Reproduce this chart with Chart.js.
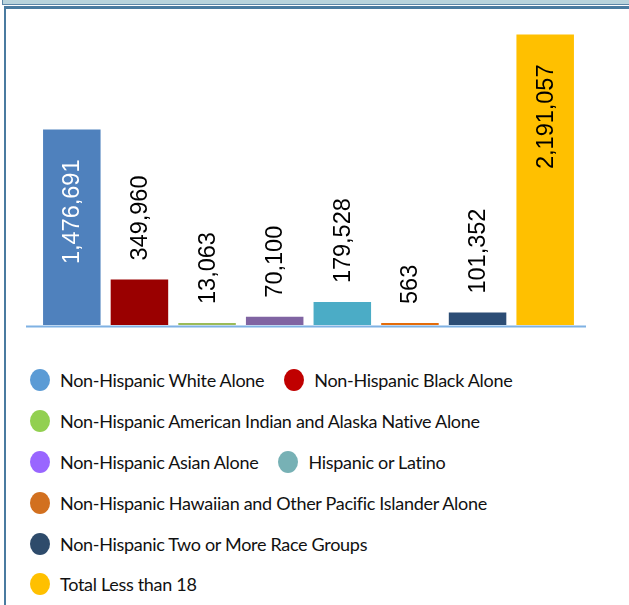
<!DOCTYPE html>
<html>
<head>
<meta charset="utf-8">
<script src="https://cdn.jsdelivr.net/npm/chart.js@4"></script>
<style>
  html, body { margin: 0; padding: 0; background: #fff; overflow: hidden; }
  body { width: 629px; height: 605px; position: relative; }
  #strip { position: absolute; left: 2px; top: 0; width: 640px; height: 4px;
    background: #b8d3dc; border-left: 1px solid #5d87a8; border-bottom: 1px solid #5d87a8; }
  #panel { position: absolute; left: 4px; top: 6px; width: 640px; height: 620px;
    border-top: 3px solid #4a7ba0; border-left: 2px solid #4a7ba0; }
  #chart { position: absolute; left: 0; top: 0; }
  #legend { position: absolute; left: 30px; top: 360px; font-family: Lato, sans-serif;
    font-size: 18px; letter-spacing: -0.3px; color: #111; }
  .row { display: flex; align-items: center; height: 40.8px; }
  .item { display: flex; align-items: center; margin-right: 20px; }
  .dot { width: 20px; height: 22px; border-radius: 50%; margin-right: 10px; flex: none; }
</style>
</head>
<body>
<div id="strip"></div>
<div id="panel"></div>
<canvas id="chart" width="629" height="335"></canvas>
<div id="legend"></div>
<script>
const categories = [
  'Non-Hispanic White Alone',
  'Non-Hispanic Black Alone',
  'Non-Hispanic American Indian and Alaska Native Alone',
  'Non-Hispanic Asian Alone',
  'Hispanic or Latino',
  'Non-Hispanic Hawaiian and Other Pacific Islander Alone',
  'Non-Hispanic Two or More Race Groups',
  'Total Less than 18'
];
const counts = [1476691, 349960, 13063, 70100, 179528, 563, 101352, 2191057];
const barColors = ['#4f81bd', '#9a0000', '#9bbb59', '#8064a2', '#4bacc6', '#e46c0a', '#2c4d75', '#ffc000'];
const legendColors = ['#5b9bd5', '#c00000', '#92d050', '#9966ff', '#77b1b5', '#d2701f', '#2e4b6b', '#ffc000'];
const labelInside = [true, false, false, false, false, false, false, true];
const labelColors = ['#ffffff', '#000', '#000', '#000', '#000', '#000', '#000', '#000'];
const legendRows = [[0, 1], [2], [3, 4], [5], [6], [7]];

// value labels, rotated like the original
const valueLabels = {
  id: 'valueLabels',
  afterDatasetsDraw(chart) {
    const ctx = chart.ctx;
    const meta = chart.getDatasetMeta(0);
    ctx.save();
    ctx.font = '23.5px "Liberation Sans", Arial, sans-serif';
    ctx.textBaseline = 'middle';
    meta.data.forEach((bar, i) => {
      const text = counts[i].toLocaleString('en-US');
      ctx.save();
      ctx.fillStyle = labelColors[i];
      if (labelInside[i]) {
        ctx.translate(bar.x + 1, bar.y + 31);
        ctx.rotate(-Math.PI / 2);
        ctx.textAlign = 'right';
      } else {
        ctx.translate(bar.x + 1, bar.y - 18);
        ctx.rotate(-Math.PI / 2);
        ctx.textAlign = 'left';
      }
      ctx.fillText(text, 0, 0);
      ctx.restore();
    });
    ctx.restore();
  }
};

// light blue base line under the bars
const baseLine = {
  id: 'baseLine',
  afterDatasetsDraw(chart) {
    const { ctx, chartArea } = chart;
    ctx.save();
    ctx.strokeStyle = '#7fb1e3';
    ctx.lineWidth = 2;
    ctx.beginPath();
    ctx.moveTo(chartArea.left - 12, chartArea.bottom + 1.5);
    ctx.lineTo(chartArea.right + 7, chartArea.bottom + 1.5);
    ctx.stroke();
    ctx.restore();
  }
};

new Chart(document.getElementById('chart').getContext('2d'), {
  type: 'bar',
  data: {
    labels: categories,
    datasets: [{
      data: counts,
      backgroundColor: barColors,
      borderColor: 'rgba(255,255,255,0.55)',
      borderWidth: 1,
      minBarLength: 3,
      barPercentage: 0.88,
      categoryPercentage: 1
    }]
  },
  options: {
    responsive: false,
    animation: false,
    layout: { padding: { left: 38, right: 50, top: 19, bottom: 10 } },
    plugins: { legend: { display: false }, tooltip: { enabled: false } },
    scales: {
      x: { display: false },
      y: { display: false, min: 0, max: 2300000 }
    }
  },
  plugins: [valueLabels, baseLine]
});

const legend = document.getElementById('legend');
legendRows.forEach(row => {
  const r = document.createElement('div');
  r.className = 'row';
  row.forEach(i => {
    const item = document.createElement('div');
    item.className = 'item';
    const dot = document.createElement('span');
    dot.className = 'dot';
    dot.style.background = legendColors[i];
    const label = document.createElement('span');
    label.textContent = categories[i];
    item.appendChild(dot);
    item.appendChild(label);
    r.appendChild(item);
  });
  legend.appendChild(r);
});
</script>
</body>
</html>
